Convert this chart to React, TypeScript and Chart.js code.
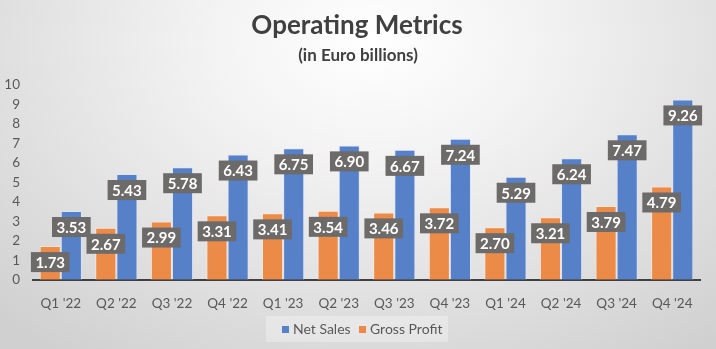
import React, { useEffect, useRef } from "react";
import { Chart, registerables } from "chart.js";
Chart.register(...registerables);

const categories = ["Q1 '22", "Q2 '22", "Q3 '22", "Q4 '22", "Q1 '23", "Q2 '23", "Q3 '23", "Q4 '23", "Q1 '24", "Q2 '24", "Q3 '24", "Q4 '24"];
const netSales = [3.53, 5.43, 5.78, 6.43, 6.75, 6.90, 6.67, 7.24, 5.29, 6.24, 7.47, 9.26];
const grossProfit = [1.73, 2.67, 2.99, 3.31, 3.41, 3.54, 3.46, 3.72, 2.70, 3.21, 3.79, 4.79];
const yMin = 0;
const yMax = 10;
const yStep = 1;

const titleText = "Operating Metrics";
const subtitleText = "(in Euro billions)";

const FONT = "Lato, 'Open Sans', 'DejaVu Sans', sans-serif";
const BLUE = "#5680c8";
const ORANGE = "#ec8a48";
const TEXT = "#595959";

export default function App() {
  const ref = useRef<HTMLCanvasElement>(null);
  useEffect(() => {
    const canvas = ref.current!;
    const labelPlugin = {
      id: "valueLabels",
      afterDatasetsDraw(chart: any) {
        const c = chart.ctx;
        c.save();
        c.font = `bold 15px ${FONT}`;
        c.textAlign = "center";
        c.textBaseline = "middle";
        chart.data.datasets.forEach((ds: any, i: number) => {
          const meta = chart.getDatasetMeta(i);
          meta.data.forEach((el: any, j: number) => {
            const v = ds.data[j] as number;
            const text = v.toFixed(2);
            const w = c.measureText(text).width + 9;
            const h = 20;
            const cx = el.x;
            const cy = el.y + 16;
            c.fillStyle = "#6c6b6a";
            c.fillRect(cx - w / 2, cy - h / 2, w, h);
            c.fillStyle = "#ffffff";
            c.fillText(text, cx, cy + 1);
          });
        });
        c.restore();
      },
    };
    const decorPlugin = {
      id: "decor",
      afterDraw(chart: any) {
        const c = chart.ctx;
        c.save();
        c.textAlign = "center";
        c.textBaseline = "middle";
        c.fillStyle = "#404040";
        c.font = `bold 26px ${FONT}`;
        c.fillText(titleText, 357, 26);
        c.font = `bold 17px ${FONT}`;
        c.fillText(subtitleText, 358, 56);
        // legend
        c.fillStyle = "rgba(255,255,255,0.3)";
        c.fillRect(266, 316, 182, 26);
        const items = [
          { label: chart.data.datasets[1].label, color: BLUE, x: 282 },
          { label: chart.data.datasets[0].label, color: ORANGE, x: 359 },
        ];
        c.font = `14px ${FONT}`;
        c.textAlign = "left";
        items.forEach((it) => {
          c.fillStyle = it.color;
          c.fillRect(it.x, 326, 7, 7);
          c.fillStyle = TEXT;
          c.fillText(it.label, it.x + 11, 329);
        });
        c.restore();
      },
    };
    const chart = new Chart(canvas, {
      type: "bar",
      data: {
        labels: categories,
        datasets: [
          {
            label: "Gross Profit",
            data: grossProfit,
            backgroundColor: ORANGE,
            borderColor: "rgba(255,235,220,0.7)",
            borderWidth: 1,
            categoryPercentage: 0.76,
            barPercentage: 1,
          },
          {
            label: "Net Sales",
            data: netSales,
            backgroundColor: BLUE,
            borderColor: "rgba(220,230,250,0.7)",
            borderWidth: 1,
            categoryPercentage: 0.76,
            barPercentage: 1,
          },
        ],
      },
      options: {
        responsive: false,
        animation: false,
        layout: { padding: { top: 85, left: 5, right: 16, bottom: 29 } },
        plugins: {
          legend: { display: false },
          title: { display: false },
          tooltip: { enabled: false },
        },
        scales: {
          x: {
            grid: { display: false },
            border: { display: true, color: "#404040", width: 2 },
            ticks: { color: TEXT, font: { family: FONT, size: 13.5 }, padding: 8 },
          },
          y: {
            min: yMin,
            max: yMax,
            grid: { display: false, drawTicks: false },
            border: { display: false },
            afterFit: (scale: any) => {
              scale.width = 28;
            },
            ticks: { stepSize: yStep, autoSkip: false, color: TEXT, font: { family: FONT, size: 13.5 }, padding: 13 },
          },
        },
      },
      plugins: [labelPlugin, decorPlugin],
    });
    return () => chart.destroy();
  }, []);
  return (
    <div
      style={{
        position: "fixed",
        left: 0,
        top: 0,
        width: 716,
        height: 349,
        background: "radial-gradient(ellipse 75% 110% at 52% 12%, #ffffff 0%, #f3f3f3 30%, #d0d0d0 100%)",
      }}
    >
      <canvas ref={ref} width={716} height={349} style={{ width: 716, height: 349, display: "block" }} />
    </div>
  );
}
